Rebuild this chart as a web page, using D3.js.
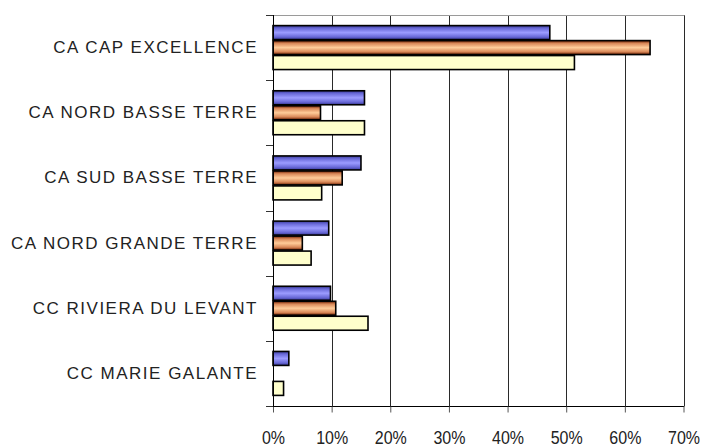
<!DOCTYPE html>
<html>
<head>
<meta charset="utf-8">
<script src="https://cdn.jsdelivr.net/npm/d3@7"></script>
<style>
  html, body { margin: 0; padding: 0; background: #fff; }
  svg { display: block; }
</style>
</head>
<body>
<svg id="chart" width="704" height="447"></svg>
<script>
const categories = ["CA CAP EXCELLENCE", "CA NORD BASSE TERRE", "CA SUD BASSE TERRE", "CA NORD GRANDE TERRE", "CC RIVIERA DU LEVANT", "CC MARIE GALANTE"];
const seriesNames = ["Série 1", "Série 2", "Série 3"];
const series1 = [0.472, 0.156, 0.150, 0.095, 0.098, 0.027];
const series2 = [0.643, 0.081, 0.118, 0.050, 0.107, 0.000];
const series3 = [0.514, 0.156, 0.083, 0.065, 0.162, 0.018];
const xTicks = [0, 0.1, 0.2, 0.3, 0.4, 0.5, 0.6, 0.7];

const svg = d3.select("#chart");
const pLeft = 273, pRight = 683.5, pTop = 15, pBottom = 406;

const x = d3.scaleLinear().domain([0, 0.7]).range([pLeft, pRight]);
const y = d3.scaleBand().domain(categories).range([pTop, pBottom]).paddingInner(0.31).paddingOuter(0.155);
const ySub = d3.scaleBand().domain(seriesNames).range([0, y.bandwidth()]);

const defs = svg.append("defs");
function grad(id, stops) {
  const g = defs.append("linearGradient").attr("id", id).attr("x1", 0).attr("y1", 0).attr("x2", 0).attr("y2", 1);
  stops.forEach(([o, c]) => g.append("stop").attr("offset", o).attr("stop-color", c));
}
grad("gBlue", [[0, "#3a3a9a"], [0.2, "#6a6ad8"], [0.5, "#9c9cff"], [0.8, "#6a6ad8"], [1, "#3a3a9a"]]);
grad("gOrange", [[0, "#6a1e00"], [0.2, "#d98858"], [0.5, "#ffcc99"], [0.8, "#d98858"], [1, "#6a1e00"]]);
const fills = ["url(#gBlue)", "url(#gOrange)", "#ffffcc"];

// gridlines
svg.append("g").selectAll("line").data(xTicks.slice(1)).join("line")
  .attr("x1", d => Math.round(x(d)) + 0.5).attr("x2", d => Math.round(x(d)) + 0.5)
  .attr("y1", pTop).attr("y2", pBottom)
  .attr("stroke", "#2a2a2a").attr("stroke-width", 1);

// top border
svg.append("line").attr("x1", pLeft).attr("x2", Math.round(pRight) + 0.5).attr("y1", pTop + 0.5).attr("y2", pTop + 0.5)
  .attr("stroke", "#9a9a9a").attr("stroke-width", 1);

// bars
const data = categories.map((c, i) => ({ c, vals: [series1[i], series2[i], series3[i]] }));
const groups = svg.append("g").selectAll("g").data(data).join("g")
  .attr("transform", d => `translate(0,${y(d.c)})`);
groups.selectAll("rect").data(d => d.vals.map((v, j) => ({ v, j })).filter(e => e.v > 0)).join("rect")
  .attr("x", x(0))
  .attr("y", d => ySub(seriesNames[d.j]) + 0.5)
  .attr("width", d => x(d.v) - x(0))
  .attr("height", ySub.bandwidth() - 1)
  .attr("fill", d => fills[d.j])
  .attr("stroke", "#000")
  .attr("stroke-width", 1.6);

// x axis
const xAxis = d3.axisBottom(x).tickValues(xTicks).tickFormat(d3.format(".0%")).tickSize(6).tickPadding(10);
const gx = svg.append("g").attr("transform", `translate(0,${pBottom + 0.5})`).call(xAxis);
gx.select(".domain").attr("stroke", "#000").attr("d", `M${pLeft},0H${Math.round(pRight) + 0.5}`);
gx.selectAll(".tick line").attr("stroke", "#555");
gx.selectAll(".tick text")
  .attr("font-family", "'Liberation Sans', Arial, sans-serif")
  .attr("font-size", 16)
  .attr("fill", "#222")
  .attr("y", 0)
  .attr("dy", 0)
  .attr("transform", "translate(0,37.5) scale(1,1.15)");

// y axis line and ticks at category boundaries
const yb = [pTop, ...categories.slice(1).map((c, i) => pTop + y.step() * (i + 1)), pBottom];
svg.append("line").attr("x1", pLeft + 0.5).attr("x2", pLeft + 0.5).attr("y1", pTop).attr("y2", pBottom + 1)
  .attr("stroke", "#000");
svg.append("g").selectAll("line").data(yb).join("line")
  .attr("x1", pLeft - 7).attr("x2", pLeft)
  .attr("y1", d => Math.round(d) + 0.5).attr("y2", d => Math.round(d) + 0.5)
  .attr("stroke", "#333");

// category labels
svg.append("g").selectAll("text").data(categories).join("text")
  .attr("x", 258)
  .attr("y", c => y(c) + y.bandwidth() / 2)
  .attr("text-anchor", "end")
  .attr("dominant-baseline", "central")
  .attr("font-family", "'Liberation Sans', Arial, sans-serif")
  .attr("font-size", 17)
  .attr("letter-spacing", 1.5)
  .attr("fill", "#222")
  .text(c => c);
</script>
</body>
</html>
